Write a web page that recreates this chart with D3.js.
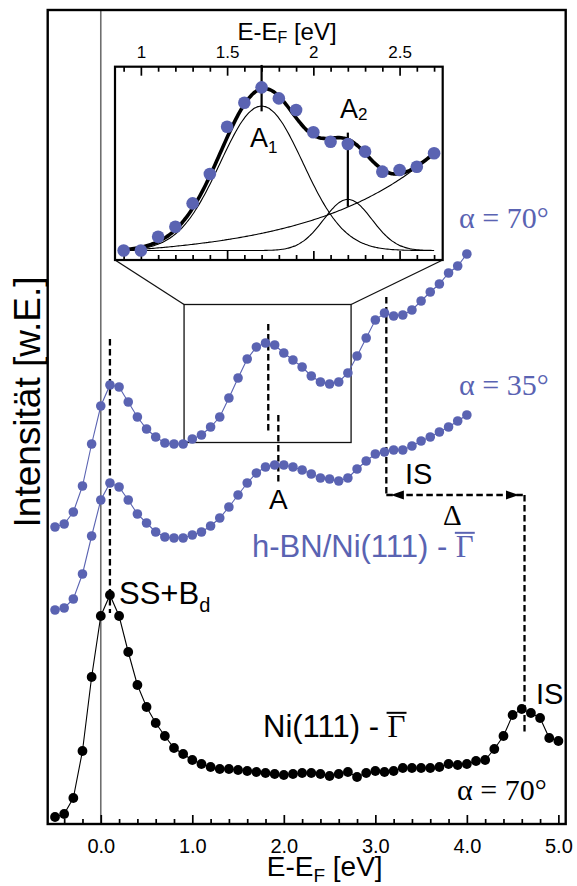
<!DOCTYPE html>
<html>
<head>
<meta charset="utf-8">
<script src="https://cdn.jsdelivr.net/npm/d3@7"></script>
<style>
  body { margin: 0; background: #fff; }
  svg { display: block; }
  text { white-space: pre; }
</style>
</head>
<body>
<svg id="chart" width="577" height="886"></svg>
<script>
// ---------- data ----------
// energy grid of the h-BN/Ni(111) spectra (eV)
const energyBN = [-0.5,-0.4,-0.3,-0.2,-0.1,0.0,0.1,0.2,0.3,0.4,0.5,0.6,0.7,0.8,0.9,1.0,1.1,1.2,1.3,1.4,1.5,1.6,1.7,1.8,1.9,2.0,2.1,2.2,2.3,2.4,2.5,2.6,2.7,2.8,2.9,3.0,3.1,3.2,3.3,3.4,3.5,3.6,3.7,3.8,3.9,4.0];
// h-BN/Ni(111), alpha = 70 deg (arb. units, offset)
const hbn70 = [297,300,312,338,380,418,439,437,422,407,395,387,381,380,380,385,389,397,407,426,446,465,477,481,479,471,464,457,448,442,440,442,451,468,486,504,511,508,509,514,523,532,540,551,558,570];
// h-BN/Ni(111), alpha = 35 deg
const hbn35 = [214,216,225,250,288,324,341,337,324,310,301,292,287,286,286,289,292,298,306,317,329,341,351,357,359,359,357,354,350,346,345,343,346,355,363,370,372,374,374,378,383,387,392,397,403,409];
// clean Ni(111), alpha = 70 deg
const energyNi = [-0.5,-0.4,-0.3,-0.2,-0.1,0.0,0.1,0.2,0.3,0.4,0.5,0.6,0.7,0.8,0.9,1.0,1.1,1.2,1.3,1.4,1.5,1.6,1.7,1.8,1.9,2.0,2.1,2.2,2.3,2.4,2.5,2.6,2.7,2.8,2.9,3.0,3.1,3.2,3.3,3.4,3.5,3.6,3.7,3.8,3.9,4.0,4.1,4.2,4.3,4.4,4.5,4.6,4.7,4.8,4.9,5.0];
const ni70 = [7,10,26,73,147,208,229,208,172,139,117,101,88,76,70,64,60,57,55,55,54,53,52,51,50,49,50,51,51,50,48,50,52,47,51,53,52,53,56,56,56,56,57,60,59,60,63,64,75,88,109,115,111,106,86,83];

// inset: zoom on feature A with a two-peak fit
const insetEnergy = [0.9,1.0,1.1,1.2,1.3,1.4,1.5,1.6,1.7,1.8,1.9,2.0,2.1,2.2,2.3,2.4,2.5,2.6,2.7];
const insetIntensity = [0.00,0.00,0.086,0.149,0.295,0.478,0.774,0.924,1.020,0.951,0.878,0.739,0.680,0.666,0.618,0.493,0.503,0.524,0.608];
const peakCenters = [1.7, 2.2];
const peakAmplitudes = [0.903, 0.32];
const peakSigmas = [0.24, 0.14];
const bgAmplitude = 0.0503, bgDecay = 0.7, bgOnset = 0.9;

const mainMajorTicks = [0, 1, 2, 3, 4, 5];
const mainMinorTicks = [-0.4,-0.2,0.2,0.4,0.6,0.8,1.2,1.4,1.6,1.8,2.2,2.4,2.6,2.8,3.2,3.4,3.6,3.8,4.2,4.4,4.6,4.8];
const insetMajorTicks = [1, 1.5, 2, 2.5];
const insetMinorTicks = [0.9,1.1,1.2,1.3,1.4,1.6,1.7,1.8,1.9,2.1,2.2,2.3,2.4,2.6,2.7];

// ---------- setup ----------
const BLUE = "#5a63b2";
const SANS = "'Liberation Sans', Arial, Helvetica, sans-serif";
const SERIF = "'Liberation Serif', 'Times New Roman', serif";

const svg = d3.select("#chart");
const x = d3.scaleLinear().domain([-0.58, 5.08]).range([47.7, 565.7]);
const y = d3.scaleLinear().domain([0, 814]).range([824, 10]);

// zero-energy reference line
svg.append("line")
  .attr("x1", x(0)).attr("x2", x(0))
  .attr("y1", y.range()[1]).attr("y2", y.range()[0])
  .attr("stroke", "#6e6e6e").attr("stroke-width", 1.6);

// bottom axis: labelled major ticks and short minor ticks, pointing inwards
const axisG = svg.append("g").attr("transform", `translate(0,${y(0)})`);
axisG.append("g").call(d3.axisBottom(x).tickValues(mainMajorTicks).tickSize(-9).tickPadding(15).tickFormat(d3.format(".1f")));
axisG.append("g").call(d3.axisBottom(x).tickValues(mainMinorTicks).tickSize(-5).tickFormat(""));
axisG.selectAll(".domain").remove();
axisG.selectAll(".tick line").attr("stroke", "#000").attr("stroke-width", 1.7);
axisG.selectAll("text").attr("font-family", SANS).attr("font-size", 20).attr("fill", "#000");

// ---------- guide lines ----------
const dashed = (x1, v1, x2, v2) => svg.append("line")
  .attr("x1", x(x1)).attr("y1", y(v1)).attr("x2", x(x2)).attr("y2", y(v2))
  .attr("stroke", "#000").attr("stroke-width", 2.3).attr("stroke-dasharray", "6.5,3.5");

dashed(0.1, 485, 0.1, 211);      // surface state + Bd
dashed(1.83, 500, 1.83, 391);    // feature A, alpha 70
dashed(1.94, 409, 1.94, 342);    // feature A, alpha 35
dashed(3.12, 527, 3.12, 329);    // image state on h-BN
dashed(3.12, 329, 4.63, 329);    // shift Delta
dashed(4.63, 329, 4.63, 92);     // image state on Ni(111)

// arrow heads of the Delta bracket
const arrowHead = (tip, dir) => {
  const tx = x(tip), ty = y(329);
  svg.append("path")
    .attr("d", `M${tx},${ty} l${-dir * 13},-4.5 l0,9 Z`)
    .attr("fill", "#000");
};
arrowHead(3.17, -1);
arrowHead(4.57, 1);

// zoom rectangle
const zoomBox = { e0: 0.91, e1: 2.735, v0: 381.5, v1: 519.5 };
svg.append("rect")
  .attr("x", x(zoomBox.e0)).attr("y", y(zoomBox.v1))
  .attr("width", x(zoomBox.e1) - x(zoomBox.e0)).attr("height", y(zoomBox.v0) - y(zoomBox.v1))
  .attr("fill", "none").attr("stroke", "#111").attr("stroke-width", 1.3);

// ---------- spectra ----------
function drawSeries(energies, values, color, r) {
  const pts = energies.map((e, i) => [e, values[i]]);
  svg.append("path")
    .datum(pts)
    .attr("d", d3.line().x(d => x(d[0])).y(d => y(d[1])))
    .attr("fill", "none").attr("stroke", color).attr("stroke-width", 1.1);
  svg.append("g").selectAll("circle").data(pts).join("circle")
    .attr("cx", d => x(d[0])).attr("cy", d => y(d[1])).attr("r", r)
    .attr("fill", color);
}
drawSeries(energyBN, hbn70, BLUE, 4.8);
drawSeries(energyBN, hbn35, BLUE, 4.8);
drawSeries(energyNi, ni70, "#000", 4.9);

// plot frame
svg.append("rect")
  .attr("x", x.range()[0]).attr("y", y.range()[1])
  .attr("width", x.range()[1] - x.range()[0]).attr("height", y.range()[0] - y.range()[1])
  .attr("fill", "none").attr("stroke", "#000").attr("stroke-width", 2.4);

// ---------- labels ----------
function sansText(tx, ty, str, size, color, anchor) {
  return svg.append("text").attr("x", tx).attr("y", ty)
    .attr("font-family", SANS).attr("font-size", size)
    .attr("fill", color).attr("text-anchor", anchor || "start").text(str);
}
function serifText(tx, ty, str, size, color, anchor) {
  return svg.append("text").attr("x", tx).attr("y", ty)
    .attr("font-family", SERIF).attr("font-size", size)
    .attr("fill", color).attr("text-anchor", anchor || "start").text(str);
}
// label ending in a Gamma-bar symbol
function gammaLabel(tx, ty, prefix, size, color) {
  const t = sansText(tx, ty, prefix, size, color);
  const w = t.node().getComputedTextLength();
  const g = serifText(tx + w, ty, "\u0393", size, color);
  const gw = g.node().getComputedTextLength();
  svg.append("line")
    .attr("x1", tx + w - 1).attr("x2", tx + w + gw + 1)
    .attr("y1", ty - 0.78 * size).attr("y2", ty - 0.78 * size)
    .attr("stroke", color).attr("stroke-width", 2);
}

serifText(459, 228, "\u03b1 = 70\u00b0", 30, BLUE);
serifText(459, 395, "\u03b1 = 35\u00b0", 30, BLUE);
serifText(457, 800, "\u03b1 = 70\u00b0", 30, "#000");

gammaLabel(252, 557, "h-BN/Ni(111) - ", 31, BLUE);
gammaLabel(263, 737, "Ni(111) - ", 31, "#000");

const ss = sansText(119, 604, "SS+B", 31, "#000");
ss.append("tspan").attr("font-size", 20).attr("dy", 8).text("d");

sansText(x(1.94), 509, "A", 28, "#000", "middle");
sansText(405, 484, "IS", 29, "#000");
sansText(536, 704, "IS", 29, "#000");
serifText(443, 525, "\u0394", 29, "#000");

// axis titles
const xt = sansText((x.range()[0] + x.range()[1]) / 2 + 18, 876, "E-E", 28, "#000", "middle");
xt.append("tspan").attr("font-size", 19).attr("dy", 6).text("F");
xt.append("tspan").attr("dy", -6).text(" [eV]");

svg.append("text")
  .attr("transform", `translate(40,${(y.range()[0] + y.range()[1]) / 2 - 15}) rotate(-90)`)
  .attr("font-family", SANS).attr("font-size", 37).attr("text-anchor", "middle")
  .text("Intensit\u00e4t [w.E.]");

// ---------- inset ----------
const ix = d3.scaleLinear().domain([0.85, 2.75]).range([115, 442.7]);
const iy = d3.scaleLinear().domain([-0.059, 1.149]).range([260, 66.7]);

// connectors from the zoom box to the inset
svg.append("line").attr("x1", ix.range()[0]).attr("y1", iy.range()[0])
  .attr("x2", x(zoomBox.e0)).attr("y2", y(zoomBox.v1)).attr("stroke", "#111").attr("stroke-width", 1.3);
svg.append("line").attr("x1", ix.range()[1]).attr("y1", iy.range()[0])
  .attr("x2", x(zoomBox.e1)).attr("y2", y(zoomBox.v1)).attr("stroke", "#111").attr("stroke-width", 1.3);

svg.append("rect")
  .attr("x", ix.range()[0]).attr("y", iy.range()[1])
  .attr("width", ix.range()[1] - ix.range()[0]).attr("height", iy.range()[0] - iy.range()[1])
  .attr("fill", "#fff").attr("stroke", "#000").attr("stroke-width", 2.2);

const inTop = svg.append("g").attr("transform", `translate(0,${iy.range()[1]})`);
inTop.append("g").call(d3.axisTop(ix).tickValues(insetMajorTicks).tickSize(-9).tickPadding(9).tickFormat(d3.format("")));
inTop.append("g").call(d3.axisTop(ix).tickValues(insetMinorTicks).tickSize(-5).tickFormat(""));
const inBot = svg.append("g").attr("transform", `translate(0,${iy.range()[0]})`);
inBot.append("g").call(d3.axisBottom(ix).tickValues(insetMajorTicks).tickSize(-9).tickFormat(""));
inBot.append("g").call(d3.axisBottom(ix).tickValues(insetMinorTicks).tickSize(-5).tickFormat(""));
svg.selectAll(".domain").remove();
[inTop, inBot].forEach(g => {
  g.selectAll(".tick line").attr("stroke", "#000").attr("stroke-width", 1.7);
  g.selectAll("text").attr("font-family", SANS).attr("font-size", 17).attr("fill", "#000");
});

const it = sansText(287, 40, "E-E", 24, "#000", "middle");
it.append("tspan").attr("font-size", 16).attr("dy", 3).text("F");
it.append("tspan").attr("dy", -3).text(" [eV]");

// fit model
const gauss = (e, k) => peakAmplitudes[k] * Math.exp(-((e - peakCenters[k]) ** 2) / (2 * peakSigmas[k] ** 2));
const background = e => bgAmplitude * (Math.exp((e - bgOnset) / bgDecay) - 1);
const grid = d3.range(insetEnergy[0], insetEnergy[insetEnergy.length - 1] + 0.0001, 0.01);
const curve = d3.line().x(d => ix(d[0])).y(d => iy(d[1])).curve(d3.curveBasis);

[e => gauss(e, 0), e => gauss(e, 1), background].forEach(f => {
  svg.append("path").datum(grid.map(e => [e, f(e)])).attr("d", curve)
    .attr("fill", "none").attr("stroke", "#000").attr("stroke-width", 1.1);
});

// peak position markers
const marker = (e, v0, v1) => svg.append("line")
  .attr("x1", ix(e)).attr("x2", ix(e)).attr("y1", iy(v0)).attr("y2", iy(v1))
  .attr("stroke", "#000").attr("stroke-width", 2.2);
marker(peakCenters[0], 1.16, 0.87);
marker(peakCenters[1], 0.737, 0.274);

svg.append("path").datum(grid.map(e => [e, gauss(e, 0) + gauss(e, 1) + background(e)])).attr("d", curve)
  .attr("fill", "none").attr("stroke", "#000").attr("stroke-width", 3.6);

svg.append("g").selectAll("circle").data(insetEnergy.map((e, i) => [e, insetIntensity[i]])).join("circle")
  .attr("cx", d => ix(d[0])).attr("cy", d => iy(d[1])).attr("r", 6.3).attr("fill", BLUE);

const a1 = sansText(250, 147, "A", 27, "#000");
a1.append("tspan").attr("font-size", 17).attr("dy", 6).text("1");
const a2 = sansText(340, 118, "A", 27, "#000");
a2.append("tspan").attr("font-size", 17).attr("dy", 2).text("2");
</script>
</body>
</html>
